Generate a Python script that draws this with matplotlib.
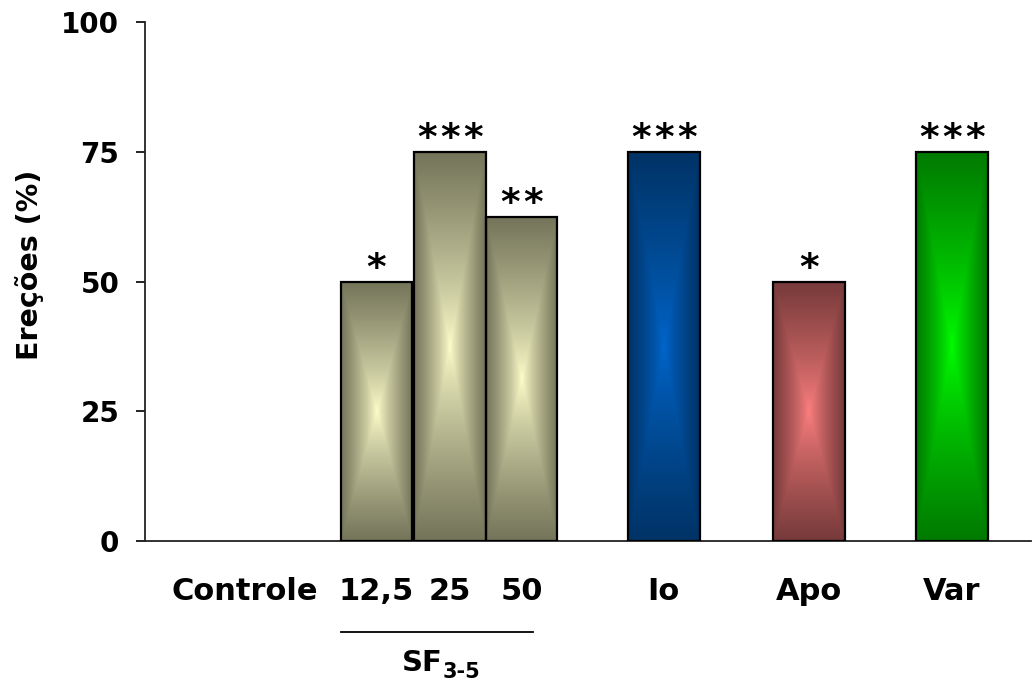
import numpy as np
import matplotlib
matplotlib.use("Agg")
import matplotlib.pyplot as plt
from matplotlib.colors import LinearSegmentedColormap
from matplotlib.transforms import blended_transform_factory

# Data
labels = ['Controle', '12,5', '25', '50', 'Io', 'Apo', 'Var']
values = [0, 50, 75, 62.5, 75, 50, 75]
signif = [0, 1, 3, 2, 3, 1, 3]   # number of stars
positions = [1.38, 3.19, 4.2, 5.19, 7.15, 9.15, 11.12]

# gradient colours (edge, centre) for each bar
edge_colors = ['#74745A', '#74745A', '#74745A', '#74745A', '#003366', '#773A3A', '#007A00']
center_colors = ['#FFFFCC', '#FFFFCC', '#FFFFCC', '#FFFFCC', '#0066CC', '#FF8080', '#00FF00']

group_label = 'SF'
group_sub = '3-5'

plt.rcParams['font.family'] = 'DejaVu Sans'
plt.rcParams['font.weight'] = 'bold'

fig = plt.figure(figsize=(10.32, 6.85), dpi=100)
ax = fig.add_axes([0.1405, 0.2102, 0.859, 0.7577])

width = 0.99
lws = [1.6 if v > 0 else 0 for v in values]
bars = ax.bar(positions, values, width=width, color='none', edgecolor='black',
              linewidth=lws, zorder=3)

# rectangular "from centre" gradient inside each bar
n = 200
u = np.linspace(-1, 1, n)
U, V = np.meshgrid(u, u)
T = np.maximum(np.abs(U), np.abs(V))
for bar, val, c0, c1 in zip(bars, values, edge_colors, center_colors):
    if val <= 0:
        continue
    cmap = LinearSegmentedColormap.from_list('g', [c1, c0])
    x0 = bar.get_x()
    im = ax.imshow(T ** 0.8, cmap=cmap, vmin=0, vmax=1, extent=[x0, x0 + width, 0, val],
                   aspect='auto', interpolation='bilinear', zorder=2)
    im.set_clip_path(bar)

# significance stars, drawn one by one so they are spaced like the original
for x, val, k in zip(positions, values, signif):
    for i in range(k):
        dx = (i - (k - 1) / 2) * 16.5
        ax.annotate('*', (x, val), xytext=(dx, 9), textcoords='offset points',
                    ha='center', va='center', fontsize=27, fontweight='bold')

ax.set_xlim(0, 12.22)
ax.set_ylim(0, 100)
ax.set_yticks([0, 25, 50, 75, 100])
ax.set_xticks(positions)
ax.set_xticklabels(labels)
ax.tick_params(axis='x', length=0, pad=26, labelsize=22)
ax.tick_params(axis='y', length=6.5, width=1.2, direction='out', labelsize=20, pad=12)

for side in ['top', 'right']:
    ax.spines[side].set_visible(False)
for side in ['left', 'bottom']:
    ax.spines[side].set_linewidth(1.3)
    ax.spines[side].set_color('#222222')

ax.set_ylabel('Ereções (%)', fontsize=20.5, fontweight='bold', va='center')
ax.yaxis.set_label_coords(-0.13, 0.532)

# group bracket for SF doses
trans = blended_transform_factory(ax.transData, ax.transAxes)
ax.plot([2.7, 5.35], [-0.175, -0.175], color='black', lw=1.3, transform=trans, clip_on=False)
ax.text(4.1, -0.235, group_label, transform=trans, ha='right', va='center',
        fontsize=21, fontweight='bold')
ax.text(4.1, -0.252, group_sub, transform=trans, ha='left', va='center',
        fontsize=15, fontweight='bold')

fig.savefig('out.png', dpi=100)
